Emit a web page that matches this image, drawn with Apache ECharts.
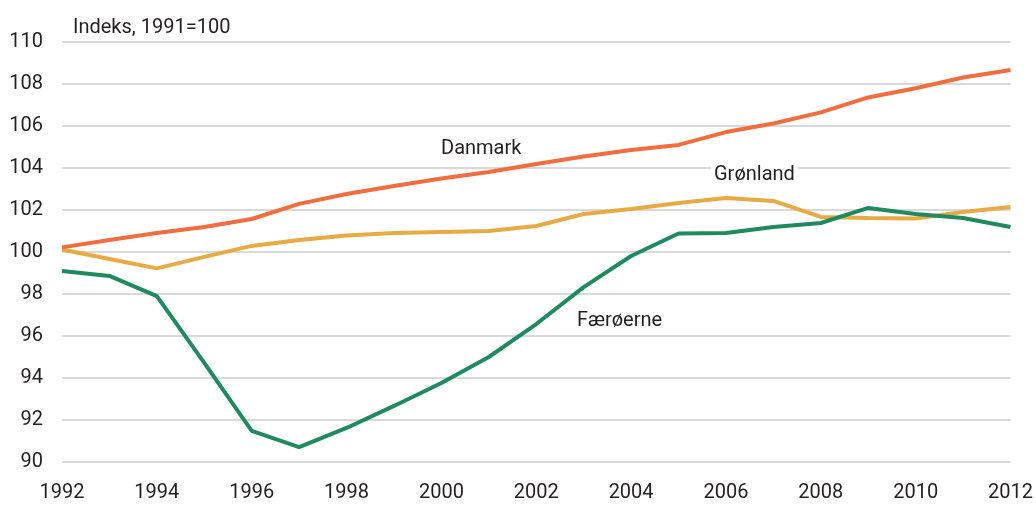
<!DOCTYPE html>
<html>
<head>
<meta charset="utf-8">
<script src="https://cdn.jsdelivr.net/npm/echarts@6/dist/echarts.min.js"></script>
<style>
  html, body { margin: 0; padding: 0; background: #fff; }
  #chart { width: 1036px; height: 527px; }
</style>
</head>
<body>
<div id="chart"></div>
<script>
// år og indeksværdier (1991=100)
const years = ['1992','1993','1994','1995','1996','1997','1998','1999','2000','2001','2002',
  '2003','2004','2005','2006','2007','2008','2009','2010','2011','2012']
const danmark = [100.22, 100.57, 100.9, 101.19, 101.57, 102.29, 102.76, 103.14, 103.5, 103.81, 104.19,
  104.55, 104.86, 105.1, 105.71, 106.12, 106.65, 107.36, 107.8, 108.31, 108.67]
const groenland = [100.12, 99.67, 99.22, 99.77, 100.29, 100.57, 100.79, 100.9, 100.95, 101.0, 101.24,
  101.81, 102.05, 102.33, 102.57, 102.43, 101.67, 101.62, 101.6, 101.9, 102.14]
const faeroerne = [99.1, 98.86, 97.9, 94.72, 91.48, 90.71, 91.62, 92.67, 93.76, 95.0, 96.57,
  98.33, 99.81, 100.88, 100.9, 101.19, 101.38, 102.1, 101.81, 101.62, 101.19]

const font = 'Roboto, "Liberation Sans", sans-serif'
const tx = '#231f20'
const grid = '#d9d9d9'

const chart = echarts.init(document.getElementById('chart'))
chart.setOption({
  animation: false,
  title: {
    text: 'Indeks, 1991=100', left: 68, top: 13,
    textStyle: { fontFamily: font, fontSize: 20, fontWeight: 'normal', color: tx },
  },
  grid: { left: 62, right: 24, top: 42, bottom: 65 },
  xAxis: {
    type: 'category', data: years, boundaryGap: false,
    axisLine: { show: false }, axisTick: { show: false },
    axisLabel: { interval: 1, color: tx, fontFamily: font, fontSize: 20, margin: 21 },
  },
  yAxis: {
    type: 'value', min: 90, max: 110, interval: 2,
    axisLine: { show: false }, axisTick: { show: false },
    axisLabel: { color: tx, fontFamily: font, fontSize: 20, margin: 19 },
    splitLine: { lineStyle: { color: grid, width: 2 } },
  },
  series: [
    { name: 'Danmark', type: 'line', data: danmark, symbol: 'none', lineStyle: { color: '#f26d3d', width: 4 }, z: 3 },
    { name: 'Grønland', type: 'line', data: groenland, symbol: 'none', lineStyle: { color: '#e8aa42', width: 4 }, z: 2 },
    { name: 'Færøerne', type: 'line', data: faeroerne, symbol: 'none', lineStyle: { color: '#1f8a5f', width: 4 }, z: 4 },
  ],
  graphic: [
    { type: 'text', left: 438, top: 139, z: 10, style: { text: 'Danmark', font: '20px ' + font, fill: tx, backgroundColor: '#fff', padding: [0, 3] } },
    { type: 'text', left: 711, top: 165, z: 10, style: { text: 'Grønland', font: '20px ' + font, fill: tx, backgroundColor: '#fff', padding: [0, 3] } },
    { type: 'text', left: 574, top: 311, z: 10, style: { text: 'Færøerne', font: '20px ' + font, fill: tx, backgroundColor: '#fff', padding: [0, 3] } },
  ],
})
</script>
</body>
</html>
